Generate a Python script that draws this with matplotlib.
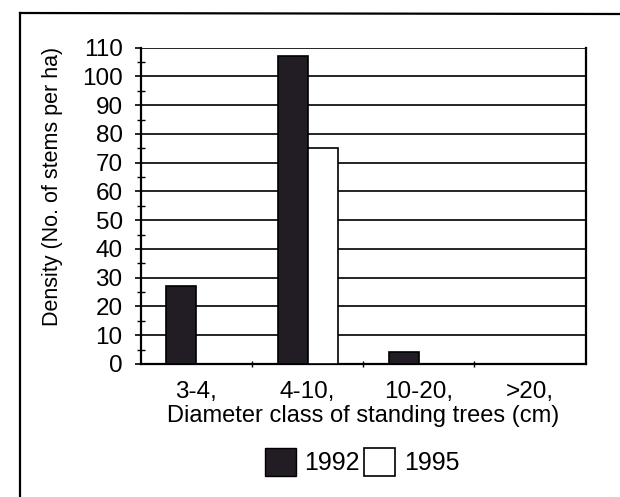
import matplotlib
matplotlib.use("Agg")
import matplotlib.pyplot as plt
from matplotlib.patches import Patch
from matplotlib.lines import Line2D
import numpy as np

plt.rcParams['font.family'] = ['Liberation Sans', 'DejaVu Sans']

categories = ["3-4,", "4-10,", "10-20,", ">20,"]
density_1992 = [27, 107, 4, 0]
density_1995 = [0, 75, 0, 0]
y_ticks = list(range(0, 111, 10))
series_labels = ["1992", "1995"]

dark = "#221c24"

fig = plt.figure(figsize=(6.2, 4.97), dpi=100)
ax = fig.add_axes([140.7 / 620, 1 - 364 / 497, 445 / 620, (364 - 47.7) / 497])

x = np.arange(len(categories))
w = 0.27
ax.bar(x - w / 2, density_1992, width=w, color=dark, edgecolor="black",
       linewidth=1.2, zorder=3)
ax.bar(x + w / 2, density_1995, width=w, color="white", edgecolor="black",
       linewidth=1.2, zorder=3)

ax.set_xlim(-0.5, len(categories) - 0.5)
ax.set_ylim(0, 110)

# horizontal grid
ax.set_yticks(y_ticks)
ax.set_yticks(np.arange(5, 110, 10), minor=True)
ax.yaxis.grid(True, which="major", color="black", linewidth=1.2, zorder=1)
ax.set_axisbelow(True)
ax.tick_params(axis="y", which="major", direction="out", length=4, width=1.2,
               labelsize=17.5, pad=9)
ax.tick_params(axis="y", which="minor", direction="inout", length=6, width=1.0)

ax.set_xticks(x)
ax.set_xticklabels(categories)
ax.set_xticks(np.arange(0.5, len(categories) - 0.5, 1), minor=True)
ax.tick_params(axis="x", which="major", length=0, labelsize=17.5, pad=12)
ax.tick_params(axis="x", which="minor", direction="inout", length=4, width=1.0)

for side in ["left", "bottom", "right"]:
    ax.spines[side].set_linewidth(1.6)
ax.spines["top"].set_visible(False)

ax.set_xlabel("Diameter class of standing trees (cm)", fontsize=17, labelpad=2)
ax.set_ylabel("Density (No. of stems per ha)", fontsize=15.5)
ax.yaxis.set_label_coords(-0.175, (364 - 186) / (364 - 47.7))

handles = [Patch(facecolor=dark, edgecolor="black", linewidth=1.0),
           Patch(facecolor="white", edgecolor="black", linewidth=1.2)]
fig.legend(handles, series_labels, loc="center", bbox_to_anchor=(362 / 620, 1 - 462 / 497),
           ncol=2, frameon=False, fontsize=18, handlelength=1.25, handleheight=1.3,
           handletextpad=0.35, columnspacing=0.15)

# outer frame of the figure panel
fig.add_artist(Line2D([20 / 620, 20 / 620], [0, 1 - 13 / 497], color="black",
                      linewidth=1.6, transform=fig.transFigure))
fig.add_artist(Line2D([20 / 620, 1], [1 - 13 / 497, 1 - 14 / 497], color="black",
                      linewidth=1.6, transform=fig.transFigure))

fig.savefig("out.png", dpi=100)
